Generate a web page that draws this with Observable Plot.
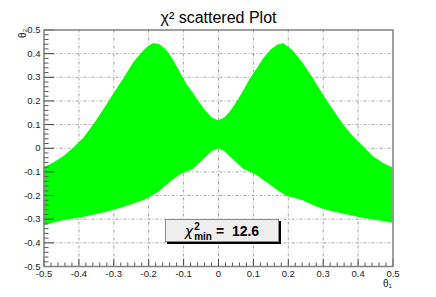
<!DOCTYPE html>
<html><head><meta charset="utf-8">
<script src="https://cdn.jsdelivr.net/npm/d3@7"></script>
<script src="https://cdn.jsdelivr.net/npm/@observablehq/plot@0.6"></script>
<style>
body{margin:0;background:#fff;}
#wrap{position:relative;width:436px;height:297px;font-family:"Liberation Sans",Arial,sans-serif;}
#legend{position:absolute;left:165px;top:219px;width:112px;height:21px;background:#efefef;border:1px solid #8a8a8a;box-shadow:2px 2px 0 #000;display:flex;align-items:center;justify-content:center;font-weight:bold;font-size:14px;color:#000;}
#legend .chi{font-weight:normal;font-family:"DejaVu Sans","Liberation Sans",sans-serif;font-size:14px;font-style:italic;}
#legend .ss{display:inline-flex;flex-direction:column;font-size:10px;line-height:10px;margin:0 4px 0 1px;position:relative;top:1px;}
#legend .val{white-space:pre;}
</style>
</head><body>
<div id="wrap"></div>
<script>
// Envelope of the scattered (theta1, theta2) points
const theta1 = [-0.5,-0.472,-0.443,-0.415,-0.386,-0.358,-0.33,-0.3,-0.272,-0.243,-0.215,-0.2,-0.187,-0.17,-0.149,-0.13,-0.111,-0.09,-0.073,-0.055,-0.035,-0.018,0,
  0.018,0.035,0.055,0.073,0.09,0.111,0.13,0.149,0.17,0.187,0.2,0.215,0.243,0.272,0.3,0.33,0.358,0.386,0.415,0.443,0.472,0.5];
const theta2Upper = [-0.083,-0.062,-0.035,0.0,0.042,0.097,0.16,0.229,0.292,0.361,0.41,0.43,0.442,0.44,0.415,0.375,0.325,0.268,0.235,0.195,0.155,0.128,0.116,
  0.128,0.155,0.2,0.244,0.29,0.336,0.38,0.413,0.437,0.442,0.428,0.41,0.358,0.294,0.226,0.16,0.099,0.05,0.007,-0.035,-0.063,-0.083];
const theta2Lower = [-0.327,-0.316,-0.306,-0.299,-0.292,-0.283,-0.274,-0.262,-0.25,-0.236,-0.222,-0.211,-0.2,-0.185,-0.158,-0.135,-0.114,-0.1,-0.09,-0.066,-0.038,-0.014,-0.003,
  -0.014,-0.038,-0.066,-0.09,-0.1,-0.116,-0.136,-0.155,-0.18,-0.195,-0.205,-0.21,-0.222,-0.242,-0.258,-0.27,-0.278,-0.288,-0.296,-0.303,-0.31,-0.317];

const majorTicks = [-0.5,-0.4,-0.3,-0.2,-0.1,0,0.1,0.2,0.3,0.4,0.5];
const gridTicks = [-0.4,-0.3,-0.2,-0.1,0,0.1,0.2,0.3,0.4];
const minorTicks = d3.range(-25, 26).map(i => +(i * 0.02).toFixed(2)).filter(v => !majorTicks.some(m => Math.abs(m - v) < 1e-9));

const titleText = ["χ² scattered Plot"];
const xLabel = ["θ₁"];
const yLabel = ["θ₂"];
const chiMinLabel = "χ";
const chiMinValue = "12.6";

const envelope = theta1.map((x, i) => ({x, y1: theta2Lower[i], y2: theta2Upper[i]}));
const fmt = d => d === 0 ? "0" : d.toFixed(1).replace("−", "-");

const chart = Plot.plot({
  width: 436,
  height: 297,
  marginLeft: 43.5,
  marginRight: 43.5,
  marginTop: 29.5,
  marginBottom: 31,
  style: {fontFamily: "'Liberation Sans', Arial, sans-serif", fontSize: "9.5px", color: "#222", background: "#fff"},
  x: {domain: [-0.5, 0.5]},
  y: {domain: [-0.5, 0.5]},
  marks: [
    Plot.gridX(gridTicks, {stroke: "#a0a0a0", strokeOpacity: 1, strokeDasharray: "3,2,1,2"}),
    Plot.gridY(gridTicks, {stroke: "#a0a0a0", strokeOpacity: 1, strokeDasharray: "3,2,1,2"}),
    Plot.areaY(envelope, {x: "x", y1: "y1", y2: "y2", fill: "#00ff00", curve: "linear"}),
    Plot.axisX(majorTicks, {anchor: "bottom", tickSize: -7, stroke: "#444", text: null, label: null}),
    Plot.axisX(minorTicks, {anchor: "bottom", tickSize: -3.5, stroke: "#555", text: null, label: null}),
    Plot.axisX(majorTicks, {anchor: "bottom", tickSize: 0, tickPadding: 4, tickFormat: fmt, label: null, fill: "#222"}),
    Plot.axisY(majorTicks, {anchor: "left", tickSize: -10.5, stroke: "#444", text: null, label: null}),
    Plot.axisY(minorTicks, {anchor: "left", tickSize: -5, stroke: "#555", text: null, label: null}),
    Plot.axisY(majorTicks, {anchor: "left", tickSize: 0, tickPadding: 3.5, tickFormat: fmt, label: null, fill: "#222"}),
    Plot.frame({stroke: "#808080", strokeWidth: 1.5}),
    Plot.text(titleText, {text: d => d, frameAnchor: "top", dy: -18, fontSize: 16, fill: "#000"}),
    Plot.text(xLabel, {text: d => d, frameAnchor: "bottom-right", textAnchor: "end", lineAnchor: "middle", dy: 17, dx: -1, fontSize: 10, fill: "#222"}),
    Plot.text(yLabel, {text: d => d, frameAnchor: "top-left", rotate: -90, textAnchor: "end", dx: -25, dy: -1.5, fontSize: 10, fill: "#222"})
  ]
});

const wrap = document.getElementById("wrap");
wrap.appendChild(chart);
const legend = document.createElement("div");
legend.id = "legend";
legend.innerHTML = `<span class="chi">${chiMinLabel}</span><span class="ss"><span>2</span><span>min</span></span><span class="val">=  ${chiMinValue}</span>`;
wrap.appendChild(legend);
</script>
</body></html>
